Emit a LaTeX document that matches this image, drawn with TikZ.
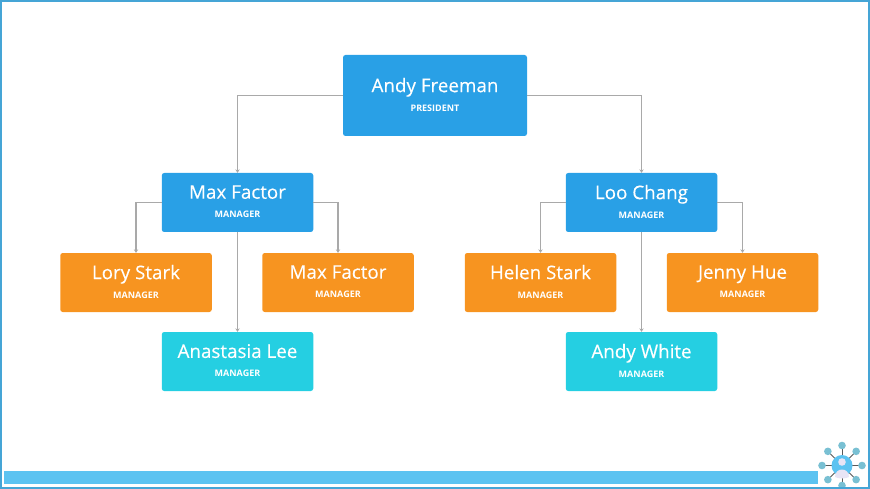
\documentclass[tikz,border=0pt]{standalone}
\usepackage{fontspec}
\usepackage{xcolor}
\usetikzlibrary{arrows.meta}
\setmainfont{Open Sans}
\definecolor{topblue}{HTML}{29A0E6}
\definecolor{leaforange}{HTML}{F79420}
\definecolor{leafcyan}{HTML}{25CFE2}
\definecolor{barblue}{HTML}{5CC3F1}
\definecolor{framblue}{HTML}{45A5D6}
\definecolor{wiregray}{HTML}{A9A9A9}
\definecolor{hubteal}{HTML}{79C0D3}
\definecolor{hubperson}{HTML}{E8E4F5}
\newcommand{\orgtext}[2]{{\fontsize{18.8}{22}\selectfont\addfontfeature{FakeBold=0.25}#1}\\[7pt]{\fontsize{9}{11}\selectfont\bfseries #2\rule[-2pt]{0pt}{2pt}}}
\tikzset{
  card/.style={rectangle, rounded corners=2.5pt, text=white, align=center, minimum width=151.5pt, minimum height=59pt, inner sep=0pt},
  bluecard/.style={card, fill=topblue},
  orangecard/.style={card, fill=leaforange},
  cyancard/.style={card, fill=leafcyan},
  wire/.style={draw=wiregray, line width=1.5pt, -{Stealth[length=3.5pt,width=4.5pt]}}
}
\begin{document}
\begin{tikzpicture}[x=1pt,y=-1pt]
\useasboundingbox (0,0) rectangle (870,489);
\fill[barblue] (4,471) rectangle (818,484);

% the tree
\node[bluecard, minimum width=184pt, minimum height=81pt] (president) at (435,95.5) {\orgtext{Andy Freeman}{PRESIDENT}};
\node[bluecard] (maxboss) at (237.5,202.5) {\orgtext{Max Factor}{MANAGER}};
\node[bluecard] (loo) at (641.5,202.5) {\orgtext{Loo Chang}{MANAGER}};
\node[orangecard] (lory) at (136,282.5) {\orgtext{Lory Stark}{MANAGER}};
\node[orangecard] (maxleaf) at (338,282.5) {\orgtext{Max Factor}{MANAGER}};
\node[orangecard] (helen) at (540.5,282.5) {\orgtext{Helen Stark}{MANAGER}};
\node[orangecard] (jenny) at (742.5,282.5) {\orgtext{Jenny Hue}{MANAGER}};
\node[cyancard] (anastasia) at (237.5,361.5) {\orgtext{Anastasia Lee}{MANAGER}};
\node[cyancard] (andy) at (641.5,361.5) {\orgtext{Andy White}{MANAGER}};

\draw[wire] (president.west) -| (maxboss.north);
\draw[wire] (president.east) -| (loo.north);
\draw[wire] (maxboss.west) -| (lory.north);
\draw[wire] (maxboss.east) -| (maxleaf.north);
\draw[wire] (maxboss.south) -- (anastasia.north);
\draw[wire] (loo.west) -| (helen.north);
\draw[wire] (loo.east) -| (jenny.north);
\draw[wire] (loo.south) -- (andy.north);

% network badge in the corner
\coordinate (hub) at (842,465.5);
\foreach \a in {0,45,...,315} {
  \draw[gray!70!black, line width=1pt] (hub) -- ++(\a:20pt);
  \fill[hubteal] (hub) ++(\a:20pt) circle (3.8pt);
}
\fill[barblue] (hub) circle (10.5pt);
\fill[hubperson] (842,462) circle (3.8pt);
\fill[hubperson] (835,477) .. controls (835,467) and (849,467) .. (849,477) .. controls (846,479) and (838,479) .. (835,477);

% outer frame goes over the badge
\draw[framblue, line width=1.6pt] (0.8,0.8) rectangle (869.2,488.2);
\end{tikzpicture}
\end{document}
